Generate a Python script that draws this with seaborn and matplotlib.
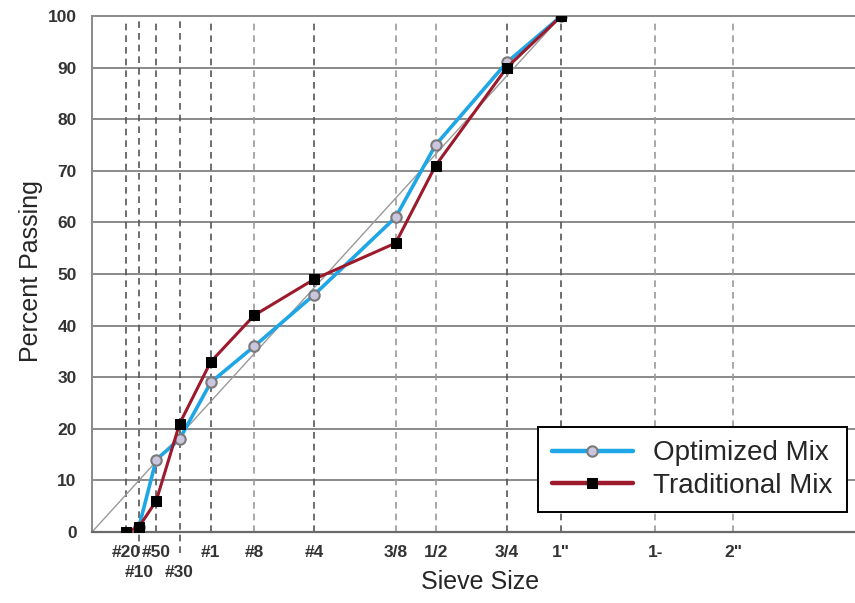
import numpy as np
import pandas as pd
import matplotlib
matplotlib.use("Agg")
import matplotlib.pyplot as plt
import seaborn as sns

# sieve openings in mm and their labels (0.45 power chart)
sieve_mm = [0.075, 0.15, 0.3, 0.6, 1.18, 2.36, 4.75, 9.5, 12.5, 19.0, 25.0, 37.5, 50.0]
sieve_labels = ["#20", "#10", "#50", "#30", "#1", "#8", "#4", "3/8", "1/2", "3/4", '1"', "1-", '2"']
lower_row = ["#10", "#30"]
light_lines = ["#8", "3/8", "1/2", "1-", '2"']

# percent passing
opt_sieves = [0.15, 0.3, 0.6, 1.18, 2.36, 4.75, 9.5, 12.5, 19.0, 25.0]
opt_pass = [1, 14, 18, 29, 36, 46, 61, 75, 91, 100]
trad_sieves = [0.075, 0.15, 0.3, 0.6, 1.18, 2.36, 4.75, 9.5, 12.5, 19.0, 25.0]
trad_pass = [0, 1, 6, 21, 33, 42, 49, 56, 71, 90, 100]

nmas = 25.0  # max density line ends at 1"

sns.set_style("white")
plt.rcParams["font.family"] = ["Liberation Sans", "DejaVu Sans"]

opt = pd.DataFrame({"x": np.array(opt_sieves) ** 0.45, "y": opt_pass})
trad = pd.DataFrame({"x": np.array(trad_sieves) ** 0.45, "y": trad_pass})

fig = plt.figure(figsize=(8.55, 6.03), dpi=100)
ax = fig.add_axes([0.1076, 0.1177, 0.8924, 0.8558])

# grid
for v in range(10, 101, 10):
    ax.axhline(v, color="#8a8a8a", lw=1.4, zorder=0, clip_on=False)
for s, lab in zip(sieve_mm, sieve_labels):
    c = "#9a9a9a" if lab in light_lines else "#555555"
    ymin = -0.04 if lab in lower_row else 0
    ax.axvline(s ** 0.45, ymin=ymin, ymax=0.995, color=c, lw=1.2,
               ls=(0, (4, 3)), zorder=0, clip_on=False)

# max density line
ax.plot([0, nmas ** 0.45], [0, 100], color="#9a9a9a", lw=1.0, zorder=1)

sns.lineplot(data=opt, x="x", y="y", ax=ax, color="#1ea6e6", lw=2.6,
             marker="o", markersize=7.5, markerfacecolor="#c9c6dd",
             markeredgecolor="#7a7a7a", markeredgewidth=1.5,
             label="Optimized Mix", zorder=3)
sns.lineplot(data=trad, x="x", y="y", ax=ax, color="#9c1a2c", lw=2.2,
             marker="s", markersize=7, markerfacecolor="black",
             markeredgecolor="black", label="Traditional Mix", zorder=4)

ax.set_xlim(0, 6.92)
ax.set_ylim(0, 100)
ax.set_yticks(range(0, 101, 10))

upper = [(s, l) for s, l in zip(sieve_mm, sieve_labels) if l not in lower_row]
lower = [(s, l) for s, l in zip(sieve_mm, sieve_labels) if l in lower_row]
ax.set_xticks([s ** 0.45 for s, _ in upper])
ax.set_xticklabels([l for _, l in upper])
ax.set_xticks(range(0, 7), minor=True)

sec = ax.secondary_xaxis("bottom")
sec.set_xticks([s ** 0.45 for s, _ in lower])
sec.set_xticklabels([l for _, l in lower])
sec.tick_params(length=0, labelsize=12.5, labelcolor="#333333", pad=24)
sec.spines["bottom"].set_visible(False)

ax.tick_params(axis="y", length=6, width=1.2, color="#8a8a8a", direction="out",
               labelsize=12.5, labelcolor="#333333", pad=5)
ax.tick_params(axis="x", which="major", length=0, labelsize=12.5,
               labelcolor="#333333", pad=9)
ax.tick_params(axis="x", which="minor", length=3, width=1.2, color="#555555",
               direction="inout")
for t in ax.get_xticklabels() + ax.get_yticklabels() + sec.get_xticklabels():
    t.set_fontweight("bold")

for side in ["top", "right"]:
    ax.spines[side].set_visible(False)
ax.spines["left"].set_color("#8a8a8a")
ax.spines["left"].set_linewidth(1.4)
ax.spines["bottom"].set_color("#6a6a6a")
ax.spines["bottom"].set_linewidth(1.6)

ax.set_xlabel("Sieve Size", fontsize=18, va="center")
ax.xaxis.set_label_coords(0.508, -0.097)
ax.set_ylabel("Percent Passing", fontsize=18, va="center")
ax.yaxis.set_label_coords(-0.08, 0.506)

leg = ax.legend(loc="lower right", bbox_to_anchor=(0.989, 0.038), fontsize=20,
                frameon=True, fancybox=False, edgecolor="black",
                handlelength=2.9, borderpad=0.5, labelspacing=0.22,
                handletextpad=0.75, borderaxespad=0)
leg.get_frame().set_linewidth(1.4)
leg.get_frame().set_alpha(1)
for h in leg.get_lines():
    h.set_linewidth(3.2)

fig.savefig("out.png", dpi=100)
